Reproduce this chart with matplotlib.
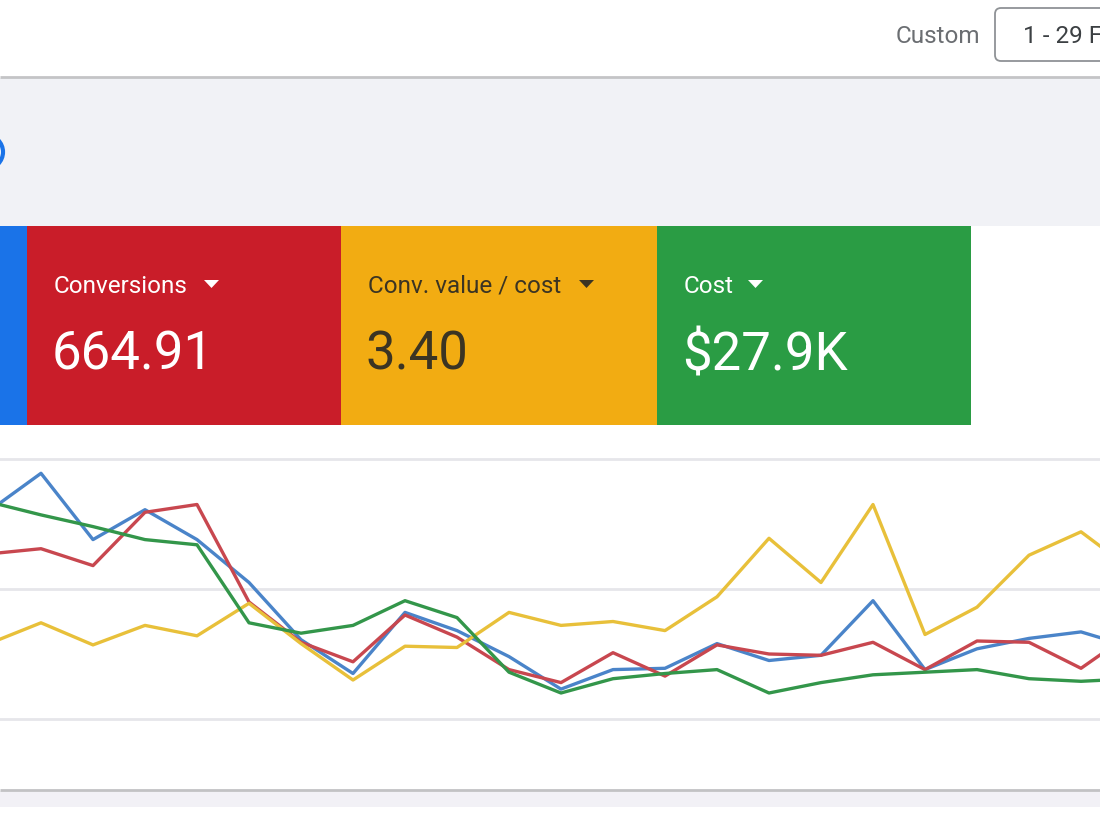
import numpy as np
import matplotlib.pyplot as plt
from matplotlib.patches import Rectangle, FancyBboxPatch, Polygon, Circle

plt.rcParams['font.family'] = ['Roboto', 'DejaVu Sans']

# --- Scorecards (metric name, total) ---
card_labels = ["Conversions", "Conv. value / cost", "Cost"]
card_values = ["664.91", "3.40", "$27.9K"]
card_colors = ["#c91d29", "#f2ac12", "#2a9c44"]
card_text = ["white", "#3b3423", "white"]

# --- Daily series, in gridline units (each metric has its own hidden scale) ---
day = np.arange(23)
clicks      = [1.60, 1.89, 1.38, 1.61, 1.38, 1.05, 0.61, 0.35, 0.82, 0.68, 0.48, 0.23,
               0.38, 0.39, 0.58, 0.45, 0.49, 0.91, 0.38, 0.54, 0.62, 0.67, 0.55]
conversions = [1.27, 1.31, 1.18, 1.59, 1.65, 0.90, 0.59, 0.44, 0.80, 0.63, 0.38, 0.28,
               0.51, 0.33, 0.57, 0.50, 0.49, 0.59, 0.38, 0.60, 0.59, 0.39, 0.67]
value_cost  = [0.58, 0.74, 0.57, 0.72, 0.64, 0.89, 0.58, 0.30, 0.56, 0.55, 0.82, 0.72,
               0.75, 0.68, 0.94, 1.39, 1.05, 1.65, 0.65, 0.86, 1.26, 1.44, 1.14]
cost        = [1.67, 1.57, 1.48, 1.38, 1.34, 0.74, 0.66, 0.72, 0.91, 0.78, 0.36, 0.20,
               0.31, 0.35, 0.38, 0.20, 0.28, 0.34, 0.36, 0.38, 0.31, 0.29, 0.31]

W, H = 1100, 825
fig = plt.figure(figsize=(W / 100, H / 100), dpi=100)
fig.patch.set_facecolor("white")

# background layer in pixel coordinates
bg = fig.add_axes([0, 0, 1, 1])
bg.set_xlim(0, W)
bg.set_ylim(H, 0)
bg.axis("off")

# header bar
bg.add_patch(Rectangle((0, 78), W, 148, color="#f1f2f6", lw=0))
bg.plot([0, W], [77, 77], color="#c4c4c6", lw=2, solid_capstyle="butt")
bg.text(980, 43, "Custom", fontsize=17.5, color="#6b6e72", ha="right", va="baseline")
bg.add_patch(FancyBboxPatch((995, 8), 200, 53, boxstyle="round,pad=0,rounding_size=6",
                            fc="white", ec="#8f9296", lw=1.3))
bg.text(1023, 43, "1 - 29 F", fontsize=17.5, color="#3c4043", va="baseline")
bg.add_patch(Circle((-14, 152), 17, fc="white", ec="#1a73e8", lw=3))

# scorecards
bg.add_patch(Rectangle((0, 226), 27, 199, color="#1a73e8", lw=0))
card_left = [27, 341, 657]
card_w = [314, 316, 314]
tri_x = [204, 579, 748]
for i in range(3):
    x0 = card_left[i]
    bg.add_patch(Rectangle((x0, 226), card_w[i], 199, color=card_colors[i], lw=0))
    bg.text(x0 + 27, 293, card_labels[i], fontsize=17.5, color=card_text[i], va="baseline")
    bg.text(x0 + 25, 370, card_values[i], fontsize=38, color=card_text[i], va="baseline")
    tx = tri_x[i]
    bg.add_patch(Polygon([[tx, 280], [tx + 15, 280], [tx + 7.5, 288]], closed=True,
                         color=card_text[i], lw=0))

# footer line
bg.plot([0, W], [790, 790], color="#c2c2c4", lw=2, solid_capstyle="butt")
bg.add_patch(Rectangle((0, 791), W, 16, color="#f2f1f6", lw=0))

# chart
ax = fig.add_axes([0, (H - 732) / H, 1, 286 / H])
ax.patch.set_alpha(0)
ax.set_xlim(11 / 52, 1111 / 52)
ax.set_ylim(-0.1, 2.1)
for s in ax.spines.values():
    s.set_visible(False)
ax.set_xticks([])
ax.set_yticks([0, 1, 2])
ax.tick_params(left=False, labelleft=False)
ax.grid(axis="y", color="#e6e6ea", lw=2)

ax.plot(day, clicks, color="#4a84c9", lw=2.4)
ax.plot(day, conversions, color="#c8474f", lw=2.4)
ax.plot(day, value_cost, color="#e8c03a", lw=2.4)
ax.plot(day, cost, color="#33964a", lw=2.4)

fig.savefig("out.png", dpi=100)
